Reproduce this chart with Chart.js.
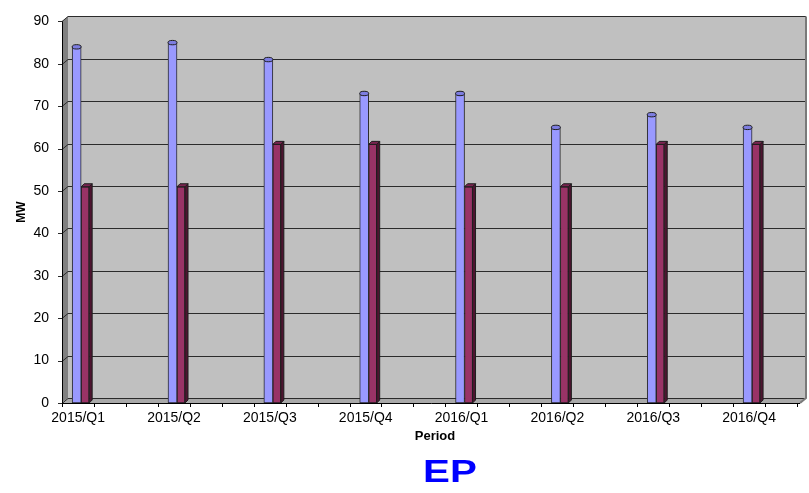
<!DOCTYPE html>
<html>
<head>
<meta charset="utf-8">
<script src="https://cdn.jsdelivr.net/npm/chart.js@4/dist/chart.umd.min.js"></script>
<style>
  html, body { margin: 0; padding: 0; background: #ffffff; }
  #c { display: block; }
</style>
</head>
<body>
<canvas id="c" width="809" height="493"></canvas>
<script>
// Quarterly capacity, MW
const periods = ['2015/Q1', '2015/Q2', '2015/Q3', '2015/Q4', '2016/Q1', '2016/Q2', '2016/Q3', '2016/Q4'];
const seriesBlue = [84, 85, 81, 73, 73, 65, 68, 65];
const seriesMaroon = [51, 51, 61, 61, 51, 51, 61, 61];
const yTickValues = [0, 10, 20, 30, 40, 50, 60, 70, 80, 90];

const FONT = '"Liberation Sans", Arial, sans-serif';
const DEPTH_X = 6, DEPTH_Y = 5;     // offset of the back wall
const X_MIN = -0.2, X_MAX = 7.5;

const toPoints = arr => arr.map((v, i) => ({ x: i, y: v }));

// Walls, floor, gridlines and axis tick marks
const wallsPlugin = {
  id: 'walls',
  beforeDatasetsDraw(chart) {
    const { ctx, chartArea: a, scales: { x, y } } = chart;
    const L = a.left, R = a.right, T = a.top, B = a.bottom;
    ctx.save();
    // back wall
    ctx.fillStyle = '#c0c0c0';
    ctx.fillRect(L + DEPTH_X, T - DEPTH_Y, R - L, B - T);
    // left side wall
    ctx.fillStyle = '#808080';
    ctx.beginPath();
    ctx.moveTo(L, T); ctx.lineTo(L + DEPTH_X, T - DEPTH_Y);
    ctx.lineTo(L + DEPTH_X, B - DEPTH_Y); ctx.lineTo(L, B);
    ctx.closePath(); ctx.fill();
    // floor
    ctx.fillStyle = '#a9a9a9';
    ctx.beginPath();
    ctx.moveTo(L, B); ctx.lineTo(L + DEPTH_X, B - DEPTH_Y);
    ctx.lineTo(R + DEPTH_X, B - DEPTH_Y); ctx.lineTo(R, B);
    ctx.closePath(); ctx.fill();

    // gridlines across side wall and back wall
    ctx.lineWidth = 1;
    ctx.strokeStyle = '#2b2b2b';
    yTickValues.forEach(v => {
      const py = Math.round(y.getPixelForValue(v)) + 0.5;
      ctx.beginPath();
      ctx.moveTo(L, py);
      ctx.lineTo(L + DEPTH_X, py - DEPTH_Y);
      ctx.lineTo(R + DEPTH_X, py - DEPTH_Y);
      ctx.stroke();
      // tick mark
      ctx.beginPath();
      ctx.moveTo(L - 4, py); ctx.lineTo(L, py);
      ctx.stroke();
    });

    // right edge of back wall
    ctx.strokeStyle = '#7a7a7a';
    ctx.lineWidth = 2;
    ctx.beginPath();
    ctx.moveTo(R + DEPTH_X, T - DEPTH_Y);
    ctx.lineTo(R + DEPTH_X, B - DEPTH_Y);
    ctx.lineTo(R, B);
    ctx.stroke();

    // front axis lines
    ctx.strokeStyle = '#000000';
    ctx.lineWidth = 1;
    ctx.beginPath();
    ctx.moveTo(L + 0.5, T); ctx.lineTo(L + 0.5, B + 0.5); ctx.lineTo(R, B + 0.5);
    ctx.stroke();

    // category tick marks, three per category
    const steps = Math.floor((X_MAX - X_MIN) * 3 + 1e-6);
    for (let k = 0; k <= steps; k++) {
      const px = Math.round(x.getPixelForValue(X_MIN + k / 3)) + 0.5;
      ctx.beginPath();
      ctx.moveTo(px, B); ctx.lineTo(px, B + 4);
      ctx.stroke();
    }
    ctx.restore();
  }
};

// Cylinder caps and box faces for the bars
const barDepthPlugin = {
  id: 'barDepth',
  afterDatasetsDraw(chart) {
    const { ctx } = chart;
    ctx.save();
    ctx.lineWidth = 1;
    ctx.strokeStyle = '#1e1e1e';
    chart.getDatasetMeta(0).data.forEach(bar => {
      const w = bar.width;
      ctx.fillStyle = '#7d7de0';
      ctx.beginPath();
      ctx.ellipse(bar.x, bar.y, w / 2, 2.2, 0, 0, Math.PI * 2);
      ctx.fill(); ctx.stroke();
    });
    const d = 3;
    chart.getDatasetMeta(1).data.forEach(bar => {
      const w = bar.width;
      const l = bar.x - w / 2, r = bar.x + w / 2, t = bar.y, b = bar.base;
      ctx.fillStyle = '#4e1430';
      ctx.beginPath();
      ctx.moveTo(r, t); ctx.lineTo(r + d, t - d); ctx.lineTo(r + d, b - d); ctx.lineTo(r, b);
      ctx.closePath(); ctx.fill(); ctx.stroke();
      ctx.fillStyle = '#7a2450';
      ctx.beginPath();
      ctx.moveTo(l, t); ctx.lineTo(l + d, t - d); ctx.lineTo(r + d, t - d); ctx.lineTo(r, t);
      ctx.closePath(); ctx.fill(); ctx.stroke();
    });
    ctx.restore();
  }
};

// Axis titles and the chart caption
const textPlugin = {
  id: 'texts',
  afterDraw(chart) {
    const { ctx, chartArea: a } = chart;
    ctx.save();
    ctx.fillStyle = '#000000';
    ctx.textAlign = 'center';
    ctx.textBaseline = 'middle';
    ctx.font = 'bold 12px ' + FONT;
    ctx.save();
    ctx.translate(22, (a.top + a.bottom) / 2);
    ctx.rotate(-Math.PI / 2);
    ctx.fillText('MW', 0, 0);
    ctx.restore();

    ctx.font = 'bold 13px ' + FONT;
    ctx.fillText('Period', 435, 436);

    ctx.fillStyle = '#0000ff';
    ctx.font = 'bold 31px ' + FONT;
    ctx.translate(450, 473);
    ctx.scale(1.3, 1);
    ctx.fillText('EP', 0, 0);
    ctx.restore();
  }
};

new Chart(document.getElementById('c'), {
  type: 'bar',
  data: {
    datasets: [
      {
        label: 'Blue series',
        data: toPoints(seriesBlue),
        backgroundColor: '#9999ff',
        borderColor: '#2a2a2a',
        borderWidth: 1,
        borderSkipped: false,
        barThickness: 9
      },
      {
        label: 'Maroon series',
        data: toPoints(seriesMaroon),
        backgroundColor: '#993366',
        borderColor: '#1e1e1e',
        borderWidth: 1,
        borderSkipped: false,
        barThickness: 8
      }
    ]
  },
  options: {
    responsive: false,
    animation: false,
    devicePixelRatio: 1,
    layout: { padding: { top: 14, right: 9, left: 0, bottom: 0 } },
    plugins: {
      legend: { display: false },
      tooltip: { enabled: false },
      title: { display: false }
    },
    scales: {
      x: {
        type: 'linear',
        offset: false,
        min: X_MIN,
        max: X_MAX,
        grid: { display: false, drawTicks: false, offset: false },
        border: { display: false },
        afterBuildTicks: scale => { scale.ticks = periods.map((_, i) => ({ value: i })); },
        afterFit: scale => { scale.height = 90; },
        ticks: {
          autoSkip: false,
          maxRotation: 0,
          padding: 7,
          labelOffset: -3,
          color: '#000000',
          font: { family: FONT, size: 14 },
          callback: v => periods[v] ?? ''
        }
      },
      y: {
        min: 0,
        max: 90,
        grid: { display: false, drawTicks: false },
        border: { display: false },
        afterBuildTicks: scale => { scale.ticks = yTickValues.map(v => ({ value: v })); },
        afterFit: scale => { scale.width = 62; },
        ticks: {
          padding: 13,
          color: '#000000',
          font: { family: FONT, size: 14 }
        }
      }
    }
  },
  plugins: [wallsPlugin, barDepthPlugin, textPlugin]
});
</script>
</body>
</html>
